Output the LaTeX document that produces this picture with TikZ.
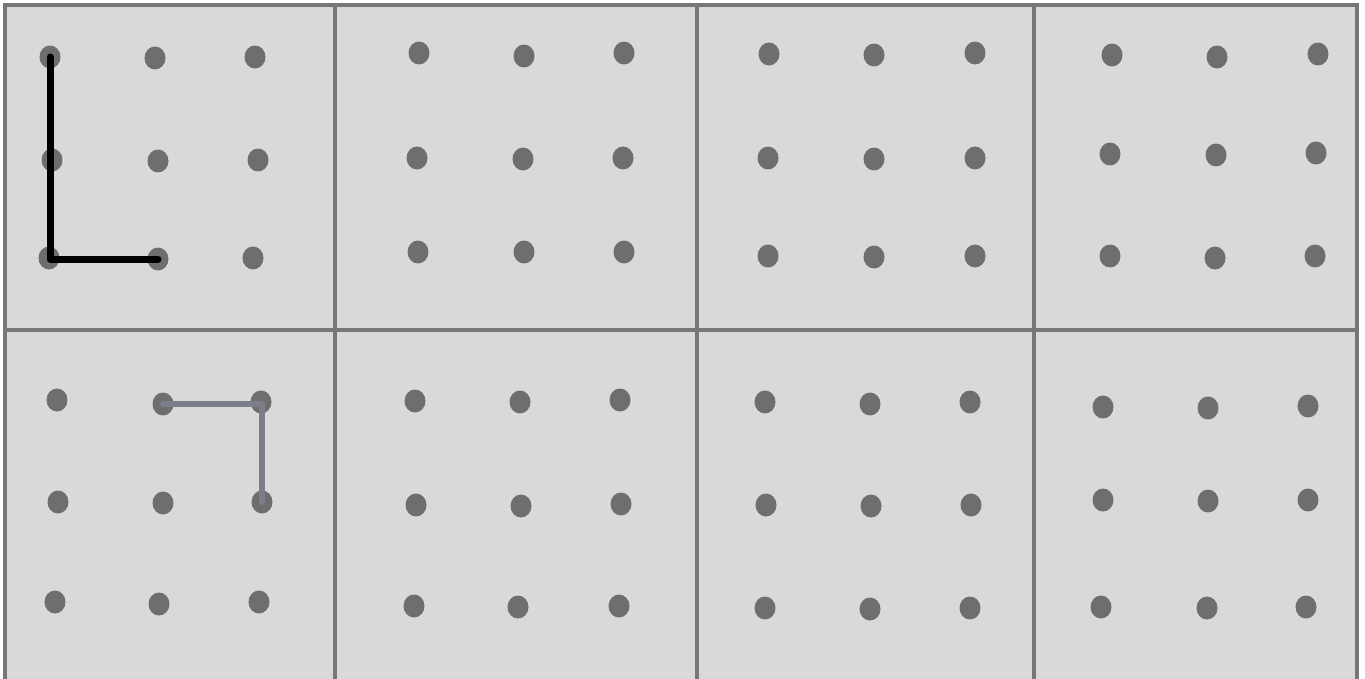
\documentclass[tikz,border=0pt]{standalone}
\usepackage{xcolor}
\usepackage{tikz}
\definecolor{panelfill}{HTML}{D9D9D9}
\definecolor{panelline}{HTML}{777777}
\definecolor{pegcol}{HTML}{6E6E6E}
\definecolor{bandcol}{HTML}{7C7F88}
\tikzset{
  panel/.style={
    draw=panelline, fill=panelfill, line width=0.08cm
  },
  peg/.style={
    ellipse, fill=pegcol, inner sep=0pt,
    minimum width=0.42cm, minimum height=0.46cm
  },
  bandblack/.style={
    draw=black, line width=0.14cm, line cap=round, line join=round
  },
  bandgray/.style={
    draw=bandcol, line width=0.11cm, line cap=round, line join=round
  }
}
\usetikzlibrary{shapes.geometric}
\begin{document}
\begin{tikzpicture}[x=0.02cm, y=-0.02cm]
    \useasboundingbox[fill=white] (0,0) rectangle (1365,679);
    % boards
    \foreach \xa/\xb in {5/335, 335/697, 697/1034, 1034/1357} {
      \draw[panel] (\xa,5) rectangle (\xb,330);
      \draw[panel] (\xa,330) rectangle (\xb,684);
    }
    % pegs
    \foreach \n/\px/\py in {
      a1/50/57, a2/155/58, a3/255/57, a4/52/160, a5/158/161, a6/258/160, a7/49/258, a8/158/259, a9/253/258,
      b1/419/53, b2/524/56, b3/624/53, b4/417/158, b5/523/159, b6/623/158, b7/418/252, b8/524/252, b9/624/252,
      c1/769/54, c2/874/55, c3/975/53, c4/768/158, c5/874/159, c6/975/158, c7/768/256, c8/874/257, c9/975/256,
      d1/1112/55, d2/1217/57, d3/1318/54, d4/1110/154, d5/1216/155, d6/1316/153, d7/1110/256, d8/1215/258, d9/1315/256,
      e1/57/400, e2/163/404, e3/261/402, e4/58/502, e5/163/503, e6/262/502, e7/55/602, e8/159/604, e9/259/602,
      f1/415/401, f2/520/402, f3/620/400, f4/416/505, f5/521/506, f6/621/504, f7/414/606, f8/518/607, f9/619/606,
      g1/765/402, g2/870/404, g3/970/402, g4/766/505, g5/871/506, g6/971/505, g7/765/608, g8/870/609, g9/970/608,
      h1/1103/407, h2/1208/408, h3/1308/406, h4/1103/500, h5/1208/501, h6/1308/500, h7/1101/607, h8/1207/608, h9/1306/607
    } {
      \node[peg] (\n) at (\px,\py) {};
    }
    % bands
    \draw[bandblack] (a1.center) |- (a8.center);
    \draw[bandgray] (e2.center) -| (e6.center);
\end{tikzpicture}
\end{document}
